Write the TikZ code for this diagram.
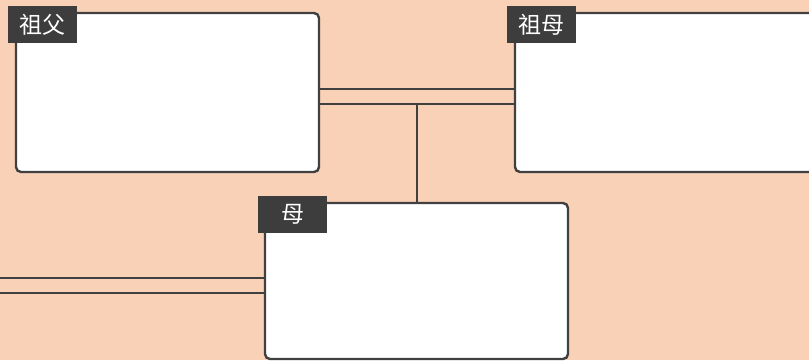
\documentclass[tikz,border=0pt]{standalone}
\usepackage{fontspec}
\newfontfamily\cjk{Noto Sans CJK SC}
\definecolor{bgc}{HTML}{F9D1B6}
\definecolor{edge}{HTML}{404040}
\definecolor{tagc}{HTML}{3D3D3D}
\begin{document}
\begin{tikzpicture}[x=1pt,y=-1pt,
  card/.style={draw=edge,line width=2.4pt,fill=white,rounded corners=5pt},
  tag/.style={fill=tagc,text=white,font=\cjk\fontsize{23}{25}\selectfont,inner sep=0pt,minimum width=69pt,minimum height=37pt,anchor=north west},
  link/.style={draw=edge,line width=2.4pt}]
\fill[bgc] (0,0) rectangle (809,360);
\useasboundingbox (0,0) rectangle (809,360);
\begin{scope}
\clip (0,0) rectangle (809,360);
% boxes
\draw[card] (16,13) rectangle (319,172);
\draw[card] (515,13) rectangle (830,172);
\draw[card] (265,203) rectangle (568,359);
\coordinate (b1r1) at (319,89); \coordinate (b2l1) at (515,89);
\coordinate (b1r2) at (319,104); \coordinate (b2l2) at (515,104);
\coordinate (vt) at (417,104); \coordinate (vb) at (417,203);
\coordinate (l1) at (0,278); \coordinate (l1e) at (265,278);
\coordinate (l2) at (0,293); \coordinate (l2e) at (265,293);
\draw[link] (b1r1) -- (b2l1);
\draw[link] (b1r2) -- (b2l2);
\draw[link] (vt) -- (vb);
\draw[link] (l1) -- (l1e);
\draw[link] (l2) -- (l2e);
\end{scope}
\node[tag] (t1) at (8,6) {祖父};
\node[tag] (t2) at (507,6) {祖母};
\node[tag] (t3) at (258,196) {母};
\end{tikzpicture}
\end{document}
